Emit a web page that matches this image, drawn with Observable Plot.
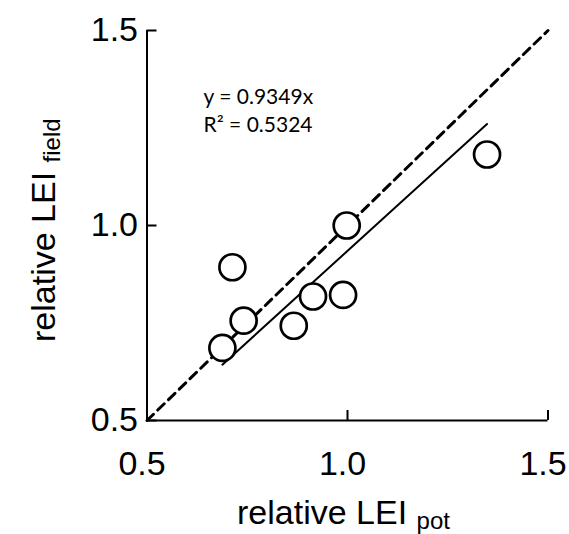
<!DOCTYPE html>
<html>
<head>
<meta charset="utf-8">
<script src="https://cdn.jsdelivr.net/npm/d3@7"></script>
<script src="https://cdn.jsdelivr.net/npm/@observablehq/plot@0.6"></script>
<style>
  body { margin: 0; background: #fff; }
</style>
</head>
<body>
<div id="chart"></div>
<script>
// Relative LEI: potential (x) vs field (y)
const potLEI   = [0.688, 0.713, 0.741, 0.866, 0.914, 0.989, 0.998, 1.348];
const fieldLEI = [0.686, 0.893, 0.756, 0.743, 0.818, 0.822, 1.000, 1.182];

// Regression through the origin
const slope = 0.9349;
const rSquared = 0.5324;

const axisTicks = [0.5, 1.0, 1.5];
const axisDomain = [0.5, 1.5];

const points = potLEI.map((x, i) => ({x, y: fieldLEI[i]}));
const fitLine = d3.extent(potLEI).map(x => ({x, y: slope * x}));
const oneToOne = axisDomain.map(v => ({x: v, y: v}));

const sans = "'Liberation Sans', Arial, Helvetica, sans-serif";
const eqFont = "Lato, 'Open Sans', sans-serif";

const chart = Plot.plot({
  width: 569,
  height: 534,
  marginLeft: 146.5,
  marginRight: 21.5,
  marginTop: 30,
  marginBottom: 114,
  style: {fontFamily: sans, background: "#fff", color: "#000", overflow: "visible"},
  x: {domain: axisDomain},
  y: {domain: axisDomain},
  marks: [
    Plot.axisX({ticks: axisTicks, tickFormat: ".1f", tickSize: -10, tickPadding: 40,
                fontSize: 34, strokeWidth: 2, label: null}),
    Plot.axisY({ticks: axisTicks, tickFormat: ".1f", tickSize: -10, tickPadding: 19,
                fontSize: 34, strokeWidth: 2, label: null}),
    Plot.ruleX([axisDomain[0]], {strokeWidth: 2}),
    Plot.ruleY([axisDomain[0]], {strokeWidth: 2}),
    Plot.line(oneToOne, {x: "x", y: "y", stroke: "#000", strokeWidth: 3, strokeDasharray: "9,6"}),
    Plot.line(fitLine, {x: "x", y: "y", stroke: "#000", strokeWidth: 2}),
    Plot.dot(points, {x: "x", y: "y", r: 13, fill: "#fff", stroke: "#000", strokeWidth: 2.7}),
    Plot.text([`y = ${slope}x`], {x: 0.641, y: 1.328, textAnchor: "start", fontSize: 21,
               fontFamily: eqFont, fill: "#000"}),
    Plot.text([`R² = ${rSquared}`], {x: 0.641, y: 1.256, textAnchor: "start", fontSize: 21,
               fontFamily: eqFont, fill: "#000"})
  ]
});

const svg = d3.select(chart);

// Tick labels along x sit slightly left of their ticks
svg.selectAll("g[aria-label='x-axis tick label'] text").attr("dx", -5);

// Axis titles with subscripts
const xTitle = svg.append("text")
  .attr("x", 237).attr("y", 524).attr("text-anchor", "start")
  .attr("font-family", sans).attr("font-size", 34).attr("fill", "#000");
xTitle.append("tspan").text("relative LEI ");
xTitle.append("tspan").attr("font-size", 24).attr("dy", 5).text("pot");

const yTitle = svg.append("text")
  .attr("transform", "translate(55,342) rotate(-90)").attr("text-anchor", "start")
  .attr("font-family", sans).attr("font-size", 34).attr("fill", "#000");
yTitle.append("tspan").text("relative LEI ");
yTitle.append("tspan").attr("font-size", 24).attr("dy", 5).text("field");

document.getElementById("chart").append(chart);
</script>
</body>
</html>
